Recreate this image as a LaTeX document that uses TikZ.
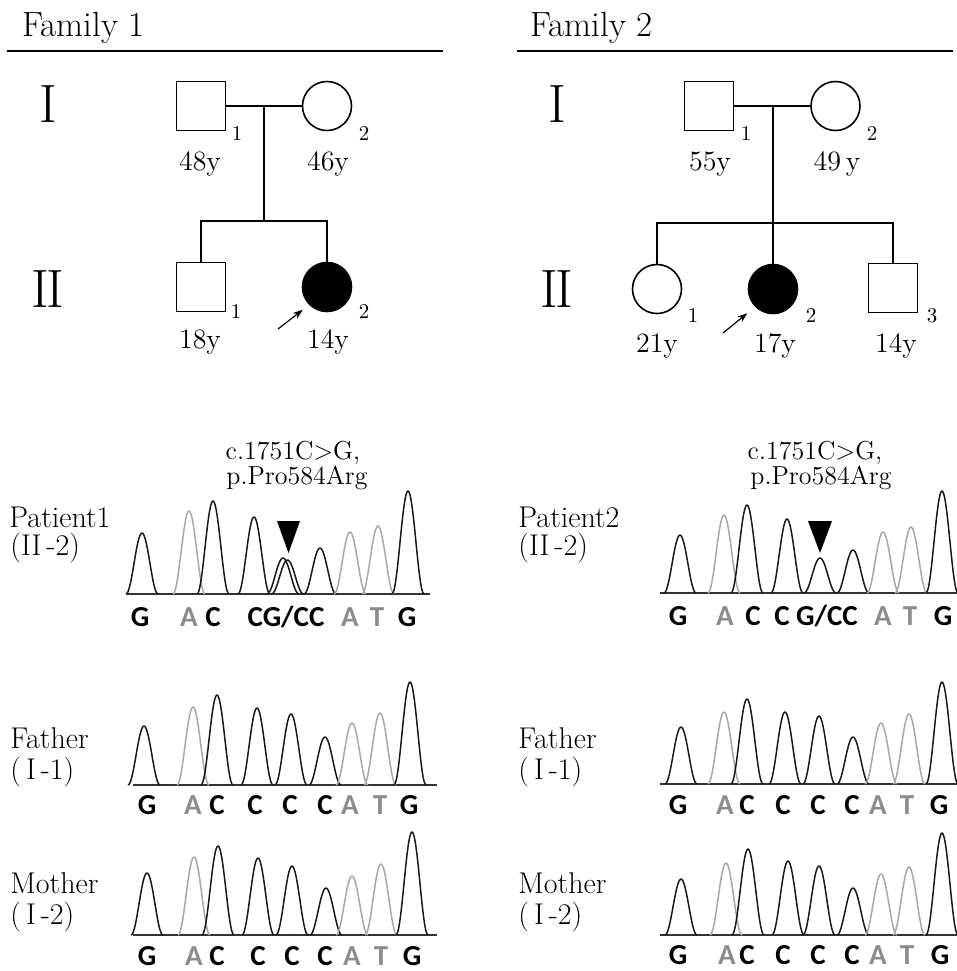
\documentclass[tikz,border=0pt]{standalone}
\usepackage{fontspec}
\newfontfamily\ntfont{Carlito}
\usetikzlibrary{arrows.meta}
\definecolor{pkgray}{HTML}{A8A8A8}
\definecolor{ntgray}{HTML}{8C8C8C}
\newcommand\chpk[4]{%
  \pgfmathsetmacro\chpa{#2-16}\pgfmathsetmacro\chpb{#2+16}%
  \draw[#1, line width=0.75pt, line join=round] plot[domain=\chpa:\chpb, samples=33, smooth] (\x,{#4-(#4-#3)*(cos(90*(\x-#2)/16))^2});}
\begin{document}
\begin{tikzpicture}[x=0.5pt,y=-0.5pt,
  hdr/.style={font=\fontsize{17.5}{20}\selectfont, anchor=base west, inner sep=0},
  gen/.style={font=\fontsize{27}{30}\selectfont, inner sep=0},
  age/.style={font=\fontsize{14}{16}\selectfont, anchor=base, inner sep=0},
  idn/.style={font=\fontsize{10.5}{12}\selectfont, anchor=base, inner sep=0},
  lbl/.style={font=\fontsize{15}{18}\selectfont, anchor=base west, inner sep=0},
  mut/.style={font=\fontsize{13}{15}\selectfont, anchor=base, inner sep=0},
  nt/.style={font=\ntfont\bfseries\fontsize{14.5}{16}\selectfont, anchor=base, inner sep=0},
  ntg/.style={nt, text=ntgray},
  ped/.style={line width=0.75pt},
  male/.style={draw, rectangle, line width=0.8pt, minimum size=24.5pt, inner sep=0},
  female/.style={draw, circle, line width=0.8pt, minimum size=24.5pt, inner sep=0},
  affected/.style={fill=black},
  prob/.style={line width=0.6pt, -{Stealth[length=5pt,width=3.5pt]}},
  axisline/.style={line width=0.7pt, black!80},
  pkb/.style={black!90},
  pkg/.style={pkgray}]
\useasboundingbox (0,0) rectangle (957,971);

% ---------- headers ----------
\node[hdr] (h1) at (22,36) {Family 1};
\node[hdr] (h2) at (530,36) {Family 2};
\draw[line width=0.7pt] (7,51) -- (443,51);
\draw[line width=0.7pt] (517,51) -- (953,51);

% ---------- Family 1 pedigree ----------
\node[gen] (g1a) at (48,104) {I};
\node[gen] (g1b) at (48,289) {I\kern-1.5pt I};
\node[male] (f1a) at (201,106) {};
\node[female] (f1b) at (327,106) {};
\coordinate (f1m) at (264,106);
\coordinate (f1s) at (264,221);
\node[male] (f1c) at (201,287) {};
\node[female,affected] (f1d) at (327,287) {};
\draw[ped] (f1a) -- (f1b);
\draw[ped] (f1m) -- (f1s);
\draw[ped] (f1c.north) |- (f1s) -| (f1d.north);
\node[idn] (n1a) at (237,140) {1};
\node[idn] (n1b) at (364,140) {2};
\node[idn] (n1c) at (236,318) {1};
\node[idn] (n1d) at (364,318) {2};
\node[age] (a1a) at (200,170) {48y};
\node[age] (a1b) at (328,170) {46y};
\node[age] (a1c) at (200,348) {18y};
\node[age] (a1d) at (328,348) {14y};
\coordinate (p1) at (278,329);
\draw[prob, shorten >=4pt] (p1) -- (f1d.south west);

% ---------- Family 2 pedigree ----------
\node[gen] (g2a) at (557,104) {I};
\node[gen] (g2b) at (557,289) {I\kern-1.5pt I};
\node[male] (f2a) at (709,106) {};
\node[female] (f2b) at (835.5,106) {};
\coordinate (f2m) at (773,106);
\coordinate (f2s) at (773,223);
\node[female] (f2c) at (657,289) {};
\node[female,affected] (f2d) at (773,289) {};
\node[male] (f2e) at (893,288) {};
\draw[ped] (f2a) -- (f2b);
\draw[ped] (f2m) -- (f2d.north);
\draw[ped] (f2c.north) |- (f2s) -| (f2e.north);
\node[idn] (n2a) at (746,140) {1};
\node[idn] (n2b) at (872,140) {2};
\node[idn] (n2c) at (693,322) {1};
\node[idn] (n2d) at (811,322) {2};
\node[idn] (n2e) at (932,322) {3};
\node[age] (a2a) at (710,170) {55y};
\node[age] (a2b) at (837,170) {49\,y};
\node[age] (a2c) at (657,352) {21y};
\node[age] (a2d) at (775,352) {17y};
\node[age] (a2e) at (896,352) {14y};
\coordinate (p2) at (723,333);
\draw[prob, shorten >=5pt] (p2) -- (f2d.south west);

% ---------- side labels ----------
\node[lbl] (l1) at (9,527) {Patient1};
\node[lbl] (l2) at (10,555) {(II\,-2)};
\node[lbl] (l3) at (10,748) {Father};
\node[lbl] (l4) at (10,779) {(\,I\,-1)};
\node[lbl] (l5) at (10,893) {Mother};
\node[lbl] (l6) at (10,924) {(\,I\,-2)};
\node[lbl] (r1) at (518,527) {Patient2};
\node[lbl] (r2) at (518,555) {(II\,-2)};
\node[lbl] (r3) at (518,748) {Father};
\node[lbl] (r4) at (518,779) {(\,I\,-1)};
\node[lbl] (r5) at (518,893) {Mother};
\node[lbl] (r6) at (518,924) {(\,I\,-2)};

% ---------- mutation labels ----------
\node[mut] (m1a) at (293,459) {c.1751C\textgreater G,};
\node[mut] (m1b) at (297,484) {p.Pro584Arg};
\node[mut] (m2a) at (815,459) {c.1751C\textgreater G,};
\node[mut] (m2b) at (821,484) {p.Pro584Arg};
\fill (277,521) -- (300,521) -- (288.5,553) -- cycle;
\fill (808,521) -- (832,521) -- (820,553) -- cycle;

% ---------- Patient1 ----------
\draw[axisline] (126,594) -- (430,594);
\chpk{pkb}{142}{533}{594}
\chpk{pkg}{189}{511}{594}
\chpk{pkb}{213}{501}{594}
\chpk{pkb}{254}{517}{594}
\chpk{pkb}{283}{558}{594}
\chpk{pkb}{287.5}{560}{594}
\chpk{pkb}{320}{548}{594}
\chpk{pkg}{350}{532}{594}
\chpk{pkg}{378}{526}{594}
\chpk{pkb}{408}{491}{594}
\node[nt] at (140,626) {G};
\node[ntg] at (189,626) {A};
\node[nt] at (213,626) {C};
\node[nt] at (286,626) {CG/CC};
\node[ntg] at (350,626) {A};
\node[ntg] at (377,626) {T};
\node[nt] at (407,626) {G};

% ---------- Father1 ----------
\draw[axisline] (133,785) -- (437,785);
\chpk{pkb}{144}{726}{785}
\chpk{pkg}{193}{707}{785}
\chpk{pkb}{217}{695}{785}
\chpk{pkb}{257}{708}{785}
\chpk{pkb}{291}{714}{785}
\chpk{pkb}{325}{737}{785}
\chpk{pkg}{352}{723}{785}
\chpk{pkg}{380}{713}{785}
\chpk{pkb}{410}{682}{785}
\node[nt] at (147,814) {G};
\node[ntg] at (193,814) {A};
\node[nt] at (217,814) {C};
\node[nt] at (255,814) {C};
\node[nt] at (290,814) {C};
\node[nt] at (325,814) {C};
\node[ntg] at (350,814) {A};
\node[ntg] at (380,814) {T};
\node[nt] at (409,814) {G};

% ---------- Mother1 ----------
\draw[axisline] (133,935) -- (437,935);
\chpk{pkb}{147}{873}{935}
\chpk{pkg}{194}{857}{935}
\chpk{pkb}{218}{846}{935}
\chpk{pkb}{258}{858}{935}
\chpk{pkb}{292}{866}{935}
\chpk{pkb}{326}{888}{935}
\chpk{pkg}{352}{876}{935}
\chpk{pkg}{381}{864}{935}
\chpk{pkb}{412}{832}{935}
\node[nt] at (147,965) {G};
\node[ntg] at (194,965) {A};
\node[nt] at (217,965) {C};
\node[nt] at (258,965) {C};
\node[nt] at (292,965) {C};
\node[nt] at (325,965) {C};
\node[ntg] at (352,965) {A};
\node[ntg] at (381,965) {T};
\node[nt] at (412,965) {G};

% ---------- Patient2 ----------
\draw[axisline] (660,593) -- (957,593);
\chpk{pkb}{680}{535}{593}
\chpk{pkg}{724}{515}{593}
\chpk{pkb}{747}{505}{593}
\chpk{pkb}{787}{519}{593}
\chpk{pkb}{820}{558}{593}
\chpk{pkb}{853}{550}{593}
\chpk{pkg}{883}{532}{593}
\chpk{pkg}{911}{527}{593}
\chpk{pkb}{942}{491}{593}
\node[nt] at (678,625) {G};
\node[ntg] at (725,625) {A};
\node[nt] at (753,625) {C};
\node[nt] at (782,625) {C};
\node[nt] at (827,625) {G/CC};
\node[ntg] at (883,625) {A};
\node[ntg] at (910,625) {T};
\node[nt] at (943,625) {G};

% ---------- Father2 ----------
\draw[axisline] (660,784) -- (957,784);
\chpk{pkb}{681}{727}{784}
\chpk{pkg}{724}{712}{784}
\chpk{pkb}{747}{699}{784}
\chpk{pkb}{785}{712}{784}
\chpk{pkb}{819}{716}{784}
\chpk{pkb}{853}{737}{784}
\chpk{pkg}{881}{723}{784}
\chpk{pkg}{909}{714}{784}
\chpk{pkb}{942}{682}{784}
\node[nt] at (678,814) {G};
\node[ntg] at (725,814) {A};
\node[nt] at (747,814) {C};
\node[nt] at (783,814) {C};
\node[nt] at (818,814) {C};
\node[nt] at (852,814) {C};
\node[ntg] at (878,814) {A};
\node[ntg] at (907,814) {T};
\node[nt] at (939,814) {G};

% ---------- Mother2 ----------
\draw[axisline] (660,935) -- (957,935);
\chpk{pkb}{681}{879}{935}
\chpk{pkg}{726}{863}{935}
\chpk{pkb}{748}{849}{935}
\chpk{pkb}{788}{861}{935}
\chpk{pkb}{819}{866}{935}
\chpk{pkb}{853}{888}{935}
\chpk{pkg}{881}{874}{935}
\chpk{pkg}{909}{867}{935}
\chpk{pkb}{942}{833}{935}
\node[nt] at (678,964) {G};
\node[ntg] at (727,964) {A};
\node[nt] at (747,964) {C};
\node[nt] at (783,964) {C};
\node[nt] at (818,964) {C};
\node[nt] at (852,964) {C};
\node[ntg] at (878,964) {A};
\node[ntg] at (907,964) {T};
\node[nt] at (940,964) {G};
\end{tikzpicture}
\end{document}
